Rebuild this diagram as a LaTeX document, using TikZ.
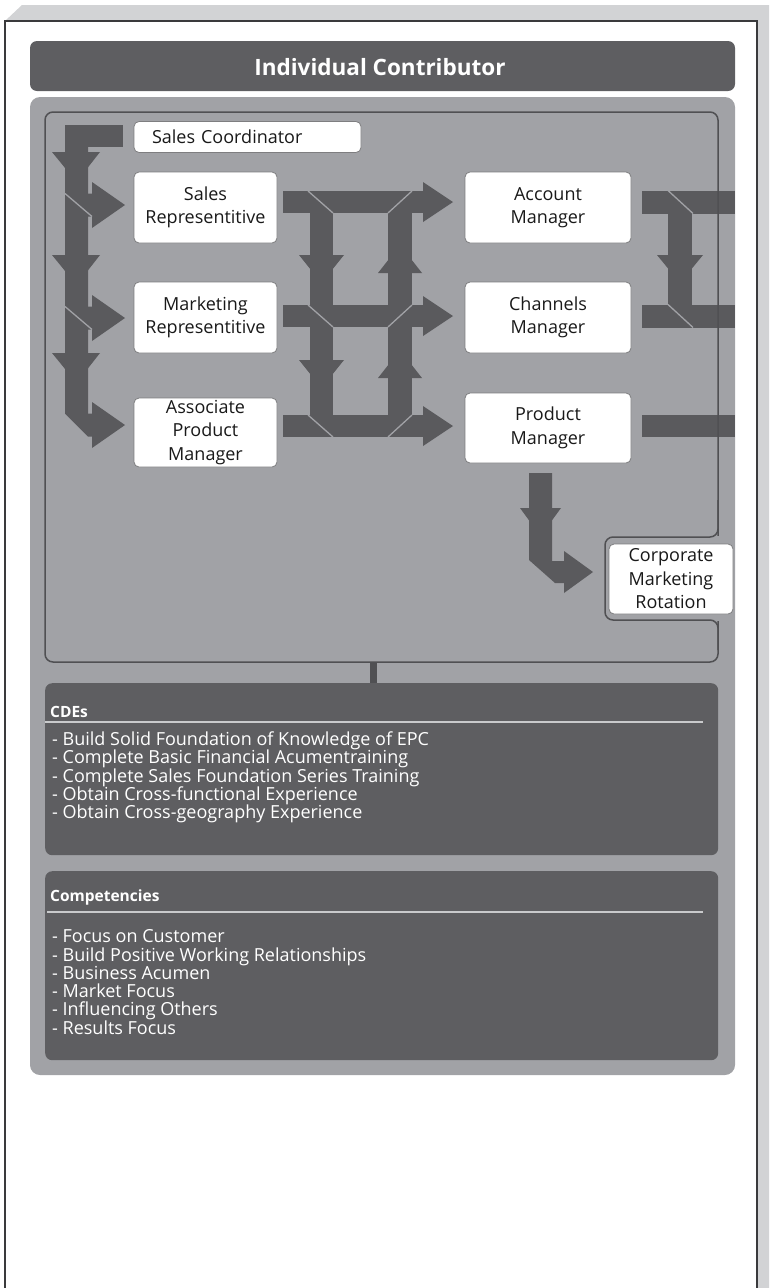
\documentclass[tikz,border=0pt]{standalone}
\usepackage{fontspec}
\setmainfont{Open Sans}
\usepackage{xcolor}
\usetikzlibrary{positioning, calc}

\definecolor{framegray}{HTML}{D2D3D5}
\definecolor{pageline}{HTML}{3A3A3C}
\definecolor{panelgray}{HTML}{A1A2A6}
\definecolor{headgray}{HTML}{5E5E61}
\definecolor{arrowgray}{HTML}{5A5A5D}
\definecolor{ingray}{HTML}{505053}
\definecolor{boxline}{HTML}{7E7E80}
\definecolor{rulegray}{HTML}{C9CACC}

\begin{document}
\begin{tikzpicture}[
  x=1pt, y=-1pt,
  every node/.style={font=\fontsize{18}{23.5}\selectfont, text=black!90},
  posbox/.style={draw=boxline, line width=0.8pt, fill=white, rounded corners=5pt,
              align=center, inner sep=0pt},
  lpos/.style={posbox, minimum width=143pt, minimum height=71pt},
  rpos/.style={posbox, minimum width=166pt, minimum height=71pt},
  blk/.style={fill=arrowgray},
  sep/.style={draw=panelgray, line width=1.3pt},
  inbox/.style={draw=ingray, line width=1.5pt, rounded corners=8pt},
  dkbox/.style={fill=headgray, rounded corners=7pt, inner sep=0pt,
                minimum width=673pt, anchor=north west},
  hdtxt/.style={text=white, font=\fontsize{15.5}{18}\selectfont\bfseries,
                anchor=west, inner sep=0pt},
  itm/.style={text=white, font=\fontsize{18}{18.3}\selectfont, align=left,
              anchor=north west, inner sep=0pt},
  rl/.style={draw=rulegray, line width=2pt}
]
\useasboundingbox (0,0) rectangle (769,1288);

%% page frame
\fill[framegray] (5,21) -- (22,5) -- (769,5) -- (769,1288) -- (757,1288) -- (757,21) -- cycle;
\draw[pageline, line width=1.2pt] (5,1288) -- (5,21) -- (757,21) -- (757,1288);

%% header bar
\fill[headgray, rounded corners=7pt] (30,41) rectangle (735,91);
\node[text=white, font=\fontsize{22.5}{26}\selectfont\bfseries] (title) at (380,67)
  {Individual Contributor};

%% grey panel + inner box
\fill[panelgray, rounded corners=10pt] (30,97) rectangle (735,1075);

%% left column arrows
\fill[blk] (65,125) rectangle (123,147);
\fill[blk] (65,125) -- (88,125) -- (88,436.5) -- (65,413.5) -- cycle;
\foreach \y in {152,255,353}
  \fill[blk] (52,\y) -- (100,\y) -- (76.5,\y+30) -- cycle;
\foreach \y in {205,318,425}
  \fill[blk] (88,\y-11.5) -- (92,\y-11.5) -- (92,\y-23) -- (125,\y)
             -- (92,\y+23) -- (92,\y+11.5) -- (88,\y+11.5) -- cycle;
\foreach \y in {205,318}
  \draw[sep] (65,\y-11.5) -- (92,\y+11.5);

%% middle U arrows
\foreach \y in {202,316,426} {
  \fill[blk] (283,\y-11) rectangle (423,\y+11);
  \fill[blk] (423,\y-20) -- (453,\y) -- (423,\y+20) -- cycle;
}
\fill[blk] (310,202) rectangle (333,426);
\fill[blk] (388,202) rectangle (412,426);
\foreach \y in {255,360}
  \fill[blk] (299,\y) -- (344,\y) -- (321.5,\y+28) -- cycle;
\foreach \y in {273,378}
  \fill[blk] (378,\y) -- (422,\y) -- (400,\y-28) -- cycle;
\foreach \y in {202,316,426} {
  \draw[sep] (308,\y-11) -- (333,\y+11);
  \draw[sep] (412,\y-11) -- (388,\y+11);
}

%% right side arrows
\foreach \y in {202,316}
  \fill[blk] (642,\y-11.5) rectangle (735,\y+11.5);
\fill[blk] (642,415) rectangle (735,437);
\fill[blk] (668,202) rectangle (692,316);
\fill[blk] (657,255) -- (703,255) -- (680,283) -- cycle;
\draw[sep] (668,190.5) -- (693,213.5);
\draw[sep] (668,304.5) -- (693,327.5);

%% product manager -> rotation
\fill[blk] (529,473) -- (552,473) -- (552,561) -- (564,561) -- (564,551) -- (593,572)
  -- (564,593) -- (564,583) -- (555,583) -- (529,560) -- cycle;
\fill[blk] (520,508) -- (561,508) -- (540.5,536) -- cycle;

%% inner outline with notch
\draw[inbox] (45,112) rectangle (718,662);
\fill[panelgray] (711,536) rectangle (734,621);
\draw[inbox] (718,500) -- (718,537) -- (605,537) -- (605,620) -- (718,620) -- (718,650);

%% position boxes
\node[posbox, minimum width=227pt, minimum height=31pt, text width=191pt, align=left,
      inner xsep=18pt] (sc) at (247.5,137) {Sales Coordinator};
\node[lpos] (sr)  at (205.5,207.5) {Sales\\Representitive};
\node[lpos] (mr)  at (205.5,317.5) {Marketing\\Representitive};
\node[lpos, minimum height=69pt] (apm) at (205.5,432.5) {Associate\\Product\\Manager};
\node[rpos] (am)  at (548,207.5) {Account\\Manager};
\node[rpos] (cm)  at (548,317.5) {Channels\\Manager};
\node[rpos, minimum height=70pt] (pm) at (548,428) {Product\\Manager};
\node[posbox, minimum width=124pt, minimum height=70pt] (cmr) at (671,579)
  {Corporate\\Marketing\\Rotation};

%% CDEs
\coordinate (ib) at (373.5,662);
\node[dkbox, minimum height=172pt] (cdes) at (45,683) {};
\fill[ingray] ($(ib)+(-3.5,0)$) rectangle ($(cdes.north -| ib)+(3.5,0)$);
\node[hdtxt] (cdet) at (50,712) {CDEs};
\draw[rl] (45,722) -- (703,722);
\node[itm] (cdel) at (52,731.5) {- Build Solid Foundation of Knowledge of EPC\\
  - Complete Basic Financial Acumentraining\\
  - Complete Sales Foundation Series Training\\
  - Obtain Cross-functional Experience\\
  - Obtain Cross-geography Experience};

%% Competencies
\node[dkbox, minimum height=189pt] (comp) at (45,871) {};
\node[hdtxt] (compt) at (50,897) {Competencies};
\draw[rl] (47,912) -- (703,912);
\node[itm] (compl) at (52,929.5) {- Focus on Customer\\
  - Build Positive Working Relationships\\
  - Business Acumen\\
  - Market Focus\\
  - Influencing Others\\
  - Results Focus};
\end{tikzpicture}
\end{document}
